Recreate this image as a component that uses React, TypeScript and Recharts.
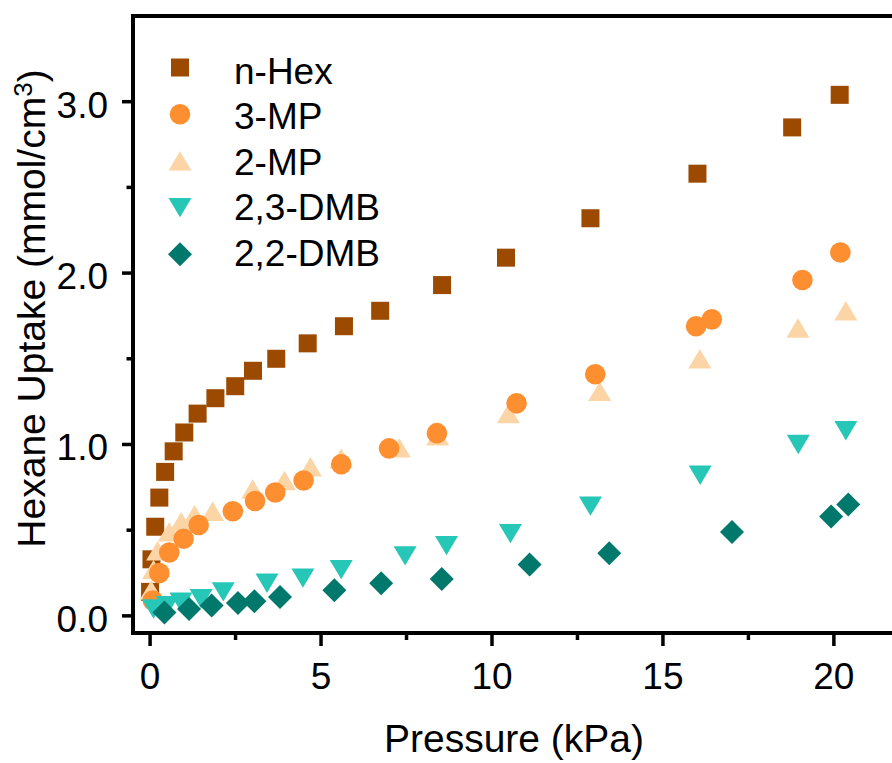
import { ScatterChart, Scatter, XAxis, YAxis, ReferenceLine, Legend, Label } from "recharts";

const FONT = "'Liberation Sans', Arial, Helvetica, sans-serif";

// pressure (kPa) / uptake (mmol/cm3)
const nHexP = [0.0, 0.04, 0.15, 0.27, 0.44, 0.69, 1.0, 1.39, 1.91, 2.49, 3.01, 3.69, 4.61, 5.67, 6.73, 8.54, 10.41, 12.88, 16.01, 18.78, 20.17];
const nHexQ = [0.14, 0.33, 0.52, 0.69, 0.84, 0.96, 1.07, 1.18, 1.27, 1.34, 1.43, 1.5, 1.59, 1.69, 1.78, 1.93, 2.09, 2.32, 2.58, 2.85, 3.04];

const mp3P = [0.08, 0.27, 0.56, 0.98, 1.42, 2.42, 3.07, 3.66, 4.49, 5.59, 6.99, 8.39, 10.72, 13.02, 15.97, 16.43, 19.08, 20.19];
const mp3Q = [0.09, 0.25, 0.37, 0.45, 0.53, 0.61, 0.67, 0.72, 0.79, 0.885, 0.977, 1.066, 1.24, 1.41, 1.69, 1.73, 1.96, 2.12];

const mp2P = [0.03, 0.1, 0.22, 0.56, 0.91, 1.3, 1.83, 3.0, 3.93, 4.69, 5.59, 7.29, 8.41, 10.48, 13.15, 16.08, 18.95, 20.35];
const mp2Q = [0.15, 0.27, 0.38, 0.49, 0.55, 0.59, 0.61, 0.74, 0.79, 0.87, 0.92, 0.98, 1.05, 1.18, 1.31, 1.5, 1.68, 1.78];

const dmb23P = [0.1, 0.5, 0.9, 1.49, 2.14, 3.42, 4.47, 5.59, 7.46, 8.67, 10.54, 12.88, 16.09, 18.96, 20.35];
const dmb23Q = [0.04, 0.06, 0.08, 0.1, 0.14, 0.19, 0.22, 0.27, 0.35, 0.41, 0.48, 0.64, 0.82, 1.0, 1.08];

const dmb22P = [0.42, 1.14, 1.8, 2.57, 3.05, 3.8, 5.39, 6.76, 8.53, 11.1, 13.43, 17.02, 19.92, 20.42];
const dmb22Q = [0.02, 0.04, 0.06, 0.075, 0.085, 0.11, 0.15, 0.19, 0.215, 0.3, 0.365, 0.49, 0.58, 0.65];

const xTicks = [0, 2.5, 5, 7.5, 10, 12.5, 15, 17.5, 20];
const yTicks = [0, 0.5, 1, 1.5, 2, 2.5, 3];

type Shape = "square" | "circle" | "up" | "down" | "diamond";

const zip = (xs: number[], ys: number[]) => xs.map((x, i) => ({ x, y: ys[i] }));

// legend order
const series: { name: string; color: string; shape: Shape; data: { x: number; y: number }[] }[] = [
  { name: "n-Hex", color: "#9b4a00", shape: "square", data: zip(nHexP, nHexQ) },
  { name: "3-MP", color: "#fe8f30", shape: "circle", data: zip(mp3P, mp3Q) },
  { name: "2-MP", color: "#fcd5a6", shape: "up", data: zip(mp2P, mp2Q) },
  { name: "2,3-DMB", color: "#27c7b7", shape: "down", data: zip(dmb23P, dmb23Q) },
  { name: "2,2-DMB", color: "#00786c", shape: "diamond", data: zip(dmb22P, dmb22Q) },
];

// drawing order (triangles under the circles)
const drawOrder = ["n-Hex", "2-MP", "3-MP", "2,3-DMB", "2,2-DMB"];

function Marker({ shape, cx, cy, color }: { shape: Shape; cx: number; cy: number; color: string }) {
  if (cx == null || cy == null) return null;
  switch (shape) {
    case "square":
      return <rect x={cx - 9} y={cy - 9} width={18} height={18} fill={color} />;
    case "circle":
      return <circle cx={cx} cy={cy} r={10.3} fill={color} />;
    case "up":
      return <polygon points={`${cx - 11.5},${cy + 9.7} ${cx + 11.5},${cy + 9.7} ${cx},${cy - 9.7}`} fill={color} />;
    case "down":
      return <polygon points={`${cx - 11.5},${cy - 9.7} ${cx + 11.5},${cy - 9.7} ${cx},${cy + 9.7}`} fill={color} />;
    default:
      return <polygon points={`${cx},${cy - 12} ${cx + 12},${cy} ${cx},${cy + 12} ${cx - 12},${cy}`} fill={color} />;
  }
}

function XTick(props: any) {
  const { x, y, payload } = props;
  const v = payload.value;
  const major = v % 5 === 0;
  return (
    <g>
      <line x1={x} x2={x} y1={y} y2={y + (major ? 13 : 7)} stroke="#000" strokeWidth={3.5} />
      {major && (
        <text x={x} y={y + 55.5} textAnchor="middle" fontSize={37} fontFamily={FONT} fill="#000">
          {v}
        </text>
      )}
    </g>
  );
}

function YTick(props: any) {
  const { x, y, payload } = props;
  const v = payload.value;
  const major = v % 1 === 0;
  return (
    <g>
      <line x1={x - (major ? 11 : 6.5)} x2={x} y1={y} y2={y} stroke="#000" strokeWidth={3.5} />
      {major && (
        <text x={x - 25} y={y + 16} textAnchor="end" fontSize={37} fontFamily={FONT} fill="#000">
          {v.toFixed(1)}
        </text>
      )}
    </g>
  );
}

function XTitle(props: any) {
  const vb = props.viewBox || { x: 133, y: 633, width: 759, height: 130 };
  return (
    <text x={vb.x + vb.width / 2 + 1.5} y={vb.y + vb.height - 11} textAnchor="middle" fontSize={39} fontFamily={FONT} fill="#000">
      Pressure (kPa)
    </text>
  );
}

function YTitle(props: any) {
  const vb = props.viewBox || { x: 0, y: 16, width: 133, height: 617 };
  const cx = vb.x + 45;
  const cy = vb.y + vb.height / 2 - 16;
  return (
    <text transform={`translate(${cx},${cy}) rotate(-90)`} textAnchor="middle" fontSize={39} fontFamily={FONT} fill="#000">
      Hexane Uptake (mmol/cm
      <tspan dy={-13} fontSize={26}>3</tspan>
      <tspan dy={13}>)</tspan>
    </text>
  );
}

function LegendBox() {
  return (
    <svg width={420} height={290} style={{ display: "block", overflow: "visible" }}>
      {series.map((s, i) => (
        <g key={s.name}>
          <Marker shape={s.shape} cx={180} cy={67.5 + i * 46.7} color={s.color} />
          <text x={234} y={84 + i * 45.4} fontSize={37} fontFamily={FONT} fill="#000">
            {s.name}
          </text>
        </g>
      ))}
    </svg>
  );
}

export default function App() {
  const ordered = drawOrder.map((n) => series.find((s) => s.name === n)!);
  return (
    <div style={{ position: "absolute", left: 0, top: 0, background: "#fff" }}>
      <ScatterChart width={892} height={763} margin={{ top: 16, right: 0, bottom: 0, left: 0 }}>
        <XAxis
          type="number"
          dataKey="x"
          domain={[-0.5, 21.7]}
          ticks={xTicks}
          interval={0}
          height={130}
          tickSize={0}
          tickMargin={0}
          tickLine={false}
          tick={<XTick />}
          axisLine={{ stroke: "#000", strokeWidth: 4, strokeLinecap: "square" }}
          allowDataOverflow
        >
          <Label content={<XTitle />} />
        </XAxis>
        <YAxis
          type="number"
          dataKey="y"
          domain={[-0.1, 3.5]}
          ticks={yTicks}
          interval={0}
          width={133}
          tickSize={0}
          tickMargin={0}
          tickLine={false}
          tick={<YTick />}
          axisLine={{ stroke: "#000", strokeWidth: 4, strokeLinecap: "square" }}
          allowDataOverflow
        >
          <Label content={<YTitle />} />
        </YAxis>
        <ReferenceLine y={3.5} stroke="#000" strokeWidth={4} />
        {ordered.map((s) => (
          <Scatter
            key={s.name}
            name={s.name}
            data={s.data}
            fill={s.color}
            isAnimationActive={false}
            shape={(p: any) => <Marker shape={s.shape} cx={p.cx} cy={p.cy} color={s.color} />}
          />
        ))}
        <Legend
          layout="vertical"
          align="center"
          verticalAlign="middle"
          content={() => <LegendBox />}
          wrapperStyle={{ left: 0, top: 0, width: 420, height: 290 }}
        />
      </ScatterChart>
    </div>
  );
}
